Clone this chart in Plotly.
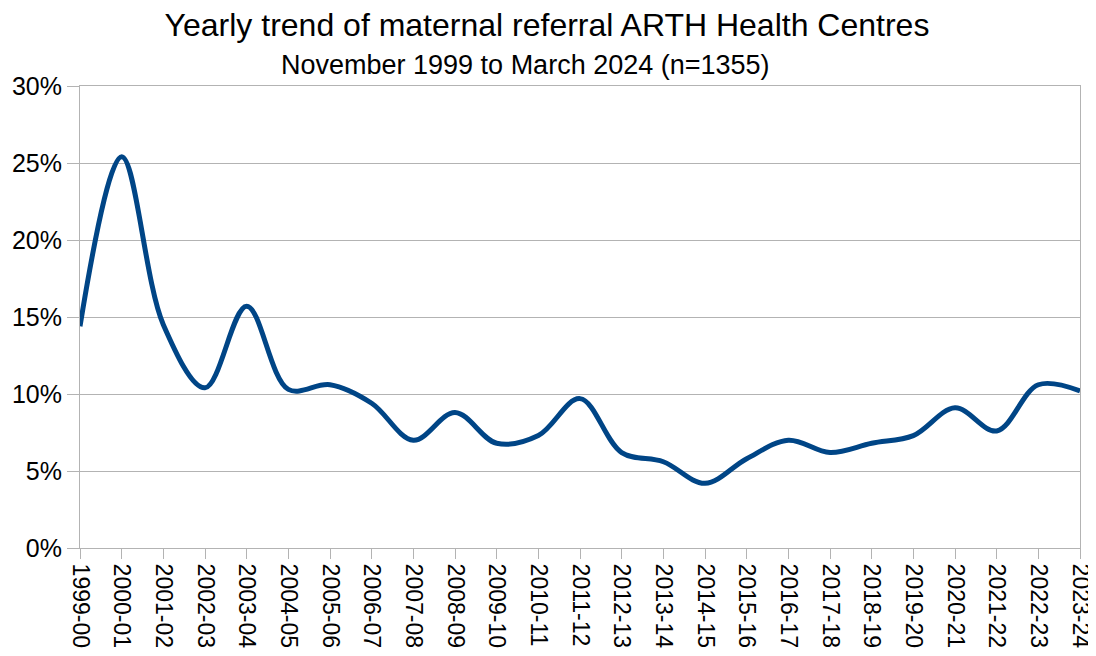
import plotly.graph_objects as go

years = ["1999-00", "2000-01", "2001-02", "2002-03", "2003-04", "2004-05", "2005-06",
         "2006-07", "2007-08", "2008-09", "2009-10", "2010-11", "2011-12", "2012-13",
         "2013-14", "2014-15", "2015-16", "2016-17", "2017-18", "2018-19", "2019-20",
         "2020-21", "2021-22", "2022-23", "2023-24"]
referral_rate = [0.144, 0.254, 0.145, 0.104, 0.157, 0.103, 0.106, 0.094, 0.070, 0.088,
                 0.068, 0.073, 0.097, 0.062, 0.056, 0.042, 0.058, 0.070, 0.062, 0.068,
                 0.073, 0.091, 0.076, 0.106, 0.102]
y_ticks = [0, 0.05, 0.10, 0.15, 0.20, 0.25, 0.30]

FONT = "Liberation Sans, Arial, sans-serif"
GRID = "#b3b3b3"

# The page adds an 8px body margin, so the figure is 8px smaller and offset.
W, H = 1088, 648

fig = go.Figure()
fig.add_trace(go.Scatter(
    x=list(range(len(years))), y=referral_rate, mode="lines",
    line=dict(color="#004586", width=5, shape="spline", smoothing=1.0),
    hoverinfo="skip", showlegend=False,
))

fig.update_layout(
    width=W, height=H,
    margin=dict(l=72, r=16, t=78, b=108, autoexpand=False),
    paper_bgcolor="white", plot_bgcolor="white",
    font=dict(family=FONT, color="black", size=23),
    title=dict(text="Yearly trend of maternal referral ARTH Health Centres",
               x=539 / W, xanchor="center", y=1 - 17 / H, yanchor="middle",
               font=dict(family=FONT, size=32, color="black")),
    annotations=[dict(text="November 1999 to March 2024 (n=1355)", xref="paper", yref="paper",
                      x=(525 - 80) / 1000, y=(548 - 65) / 462, xanchor="center",
                      yanchor="middle", showarrow=False,
                      font=dict(family=FONT, size=27, color="black"))],
)
fig.update_xaxes(
    range=[0, len(years) - 1], tickmode="array", tickvals=list(range(len(years))),
    ticktext=years, tickangle=90, showgrid=False, showline=True, linecolor=GRID,
    linewidth=1, mirror=True, ticks="outside", ticklen=10, tickcolor=GRID,
    tickfont=dict(family=FONT, size=23, color="black"), zeroline=False, automargin=False,
)
fig.update_yaxes(
    range=[0, 0.30], tickmode="array", tickvals=y_ticks, tickformat=".0%",
    showgrid=True, gridcolor=GRID, gridwidth=1, showline=True, linecolor=GRID,
    linewidth=1, mirror=True, ticks="outside", ticklen=12, tickcolor=GRID,
    tickfont=dict(family=FONT, size=25, color="black"), zeroline=False, automargin=False,
)

fig.write_html("out.html")
